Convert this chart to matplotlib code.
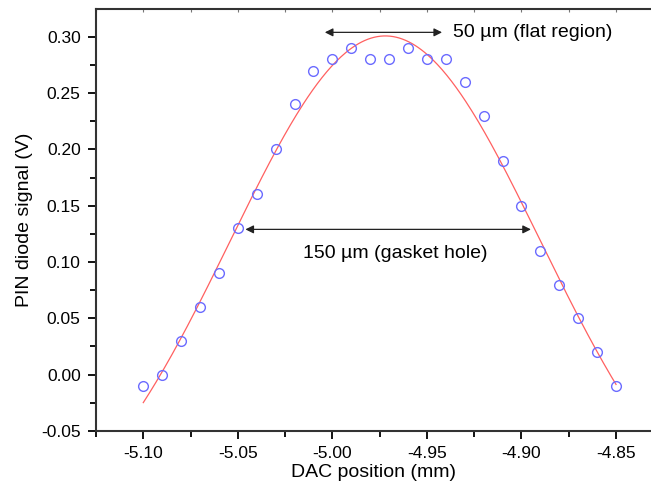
import numpy as np
import matplotlib.pyplot as plt
from matplotlib.ticker import MultipleLocator, FormatStrFormatter

plt.rcParams['font.family'] = ['Liberation Sans', 'DejaVu Sans']
plt.rcParams['axes.unicode_minus'] = False

# measured scan
dac_pos = [-5.10, -5.09, -5.08, -5.07, -5.06, -5.05, -5.04, -5.03, -5.02, -5.01,
           -5.00, -4.99, -4.98, -4.97, -4.96, -4.95, -4.94, -4.93, -4.92, -4.91,
           -4.90, -4.89, -4.88, -4.87, -4.86, -4.85]
pin_signal = [-0.01, 0.00, 0.03, 0.06, 0.09, 0.13, 0.16, 0.20, 0.24, 0.27,
              0.28, 0.29, 0.28, 0.28, 0.29, 0.28, 0.28, 0.26, 0.23, 0.19,
              0.15, 0.11, 0.08, 0.05, 0.02, -0.01]

x = np.array(dac_pos)
y = np.array(pin_signal)


# gaussian + offset fit: grid over centre/width, linear lsq for offset/amplitude
def gauss_fit(x, y):
    best = None
    for xc in np.linspace(-5.00, -4.94, 121):
        for s in np.linspace(0.04, 0.15, 221):
            g = np.exp(-(x - xc) ** 2 / (2 * s ** 2))
            M = np.column_stack([np.ones_like(x), g])
            coef, *_ = np.linalg.lstsq(M, y, rcond=None)
            err = np.sum((M @ coef - y) ** 2)
            if best is None or err < best[0]:
                best = (err, xc, s, coef)
    return best[1:]


xc, s, (y0, amp) = gauss_fit(x, y)
xf = np.linspace(x.min(), x.max(), 300)
yf = y0 + amp * np.exp(-(xf - xc) ** 2 / (2 * s ** 2))

fig = plt.figure(figsize=(6.51, 4.82), dpi=100)
ax = fig.add_axes([0.1475, 0.106, 0.8525, 0.875])

ax.plot(xf, yf, color='#ff6060', lw=0.9)
ax.plot(x, y, 'o', mfc='none', mec='#6b6bff', ms=7, mew=1.0)

ax.set_xlim(-5.125, -4.8315)
ax.set_ylim(-0.05, 0.3246)

ax.xaxis.set_major_locator(MultipleLocator(0.05))
ax.xaxis.set_minor_locator(MultipleLocator(0.025))
ax.yaxis.set_major_locator(MultipleLocator(0.05))
ax.yaxis.set_minor_locator(MultipleLocator(0.025))
ax.xaxis.set_major_formatter(FormatStrFormatter('%.2f'))
ax.yaxis.set_major_formatter(FormatStrFormatter('%.2f'))

for sp in ['left', 'bottom', 'top']:
    ax.spines[sp].set_linewidth(1.5)
    ax.spines[sp].set_color('#333333')
ax.spines['right'].set_visible(False)

ax.tick_params(which='major', direction='out', length=6, width=1.3, labelsize=12.5, pad=5)
ax.tick_params(which='minor', direction='out', length=4, width=1.3)

# small inward ticks on the top spine
top = ax.secondary_xaxis('top')
top.xaxis.set_major_locator(MultipleLocator(0.025))
top.tick_params(direction='in', length=2, width=0.8, colors='#777777', labeltop=False)
top.spines['top'].set_visible(False)

ax.set_xlabel('DAC position (mm)', fontsize=14, labelpad=2)
ax.set_ylabel('PIN diode signal (V)', fontsize=14, labelpad=6)

# annotations
arrow = dict(arrowstyle='<|-|>', color='#222222', lw=0.9, mutation_scale=12,
             shrinkA=0, shrinkB=0)
ax.annotate('', xy=(-5.004, 0.304), xytext=(-4.942, 0.304), arrowprops=arrow)
ax.text(-4.936, 0.304, '50 \u00b5m (flat region)', fontsize=14, va='center', ha='left')
ax.annotate('', xy=(-5.046, 0.129), xytext=(-4.895, 0.129), arrowprops=arrow)
ax.text(-4.967, 0.108, '150 \u00b5m (gasket hole)', fontsize=14, va='center', ha='center')

fig.savefig('out.png', dpi=100)
